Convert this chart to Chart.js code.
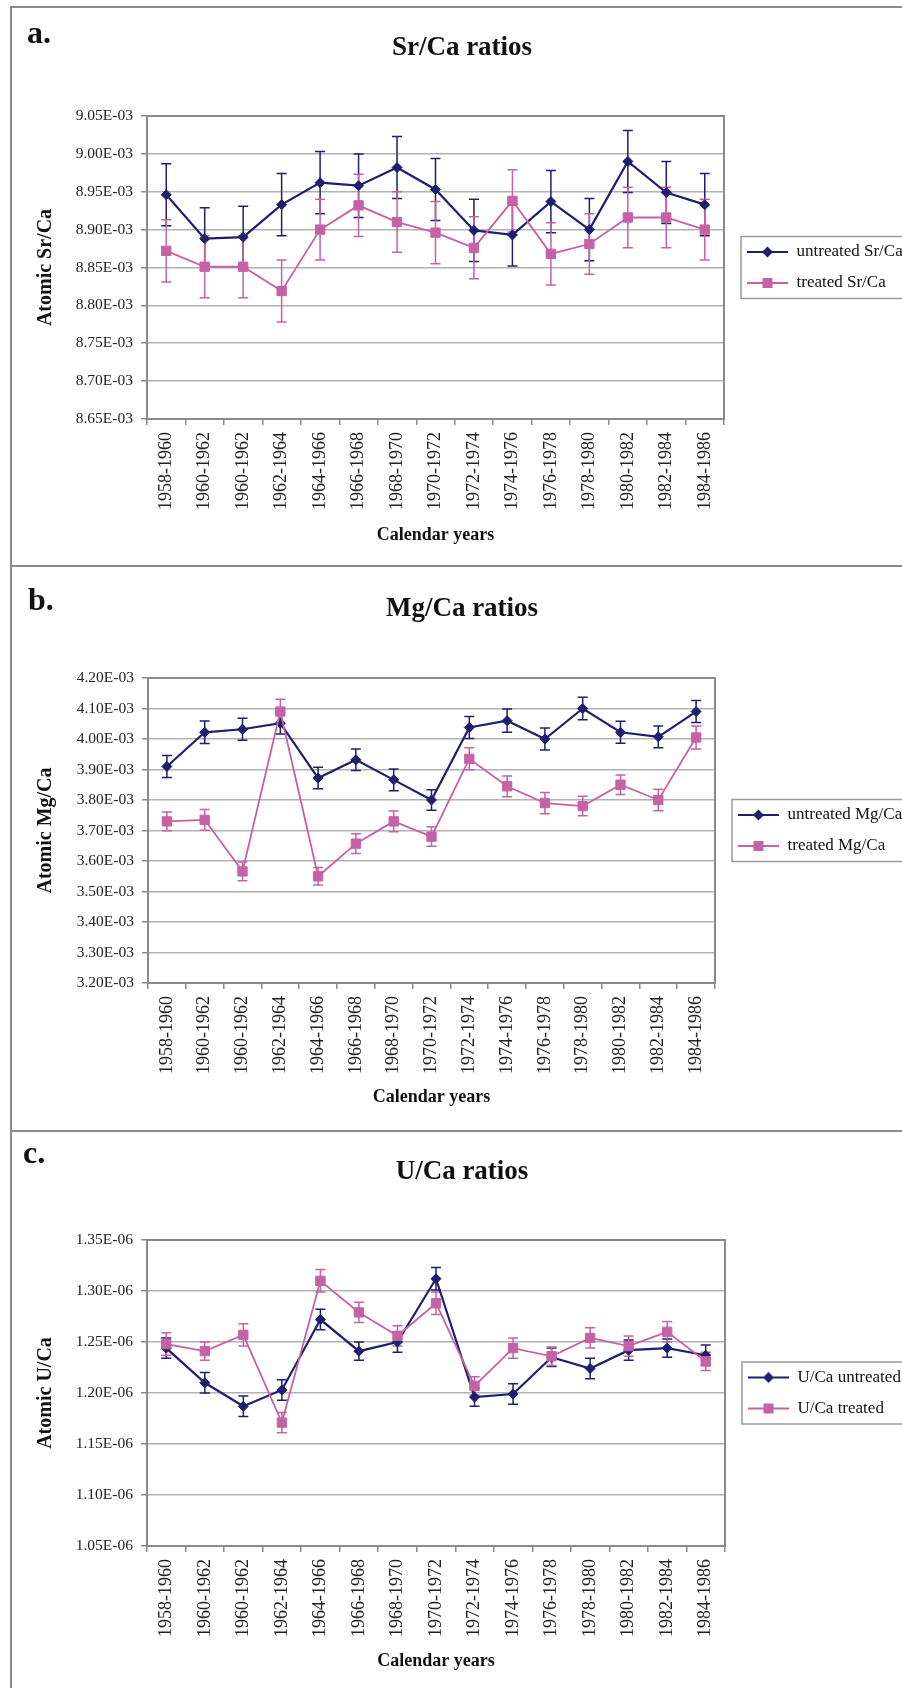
<!DOCTYPE html>
<html>
<head>
<meta charset="utf-8">
<title>Sr/Ca, Mg/Ca and U/Ca ratios</title>
<script src="https://cdn.jsdelivr.net/npm/chart.js@4.4.1/dist/chart.umd.min.js"></script>
<style>
  html, body { margin: 0; padding: 0; background: #fff; overflow: hidden; }
  #fig { position: relative; width: 902px; height: 1688px; overflow: hidden; background: #fff; }
  #fig canvas { position: absolute; left: 0; }
  .rule { position: absolute; background: #8c8c8c; }
</style>
</head>
<body>
<div id="fig">
  <canvas id="srCa" width="924" height="566" style="top:0px"></canvas>
  <canvas id="mgCa" width="924" height="565" style="top:566px"></canvas>
  <canvas id="uCa" width="924" height="557" style="top:1131px"></canvas>
  <div class="rule" style="left:10px;top:6px;width:2px;height:1700px"></div>
  <div class="rule" style="left:10px;top:6px;width:900px;height:2px"></div>
  <div class="rule" style="left:10px;top:565px;width:900px;height:2px"></div>
  <div class="rule" style="left:10px;top:1130px;width:900px;height:2px"></div>
</div>
<script>
// ---- categories ----
const yearLabels = ['1958-1960', '1960-1962', '1960-1962', '1962-1964', '1964-1966', '1966-1968',
  '1968-1970', '1970-1972', '1972-1974', '1974-1976', '1976-1978', '1978-1980',
  '1980-1982', '1982-1984', '1984-1986'];

// ---- Sr/Ca (atomic ratio) ----
const srUntreated = [8.946e-3, 8.888e-3, 8.890e-3, 8.933e-3, 8.962e-3, 8.958e-3, 8.982e-3, 8.953e-3,
  8.899e-3, 8.893e-3, 8.937e-3, 8.900e-3, 8.990e-3, 8.949e-3, 8.933e-3];
const srUntreatedErr = [0.041e-3, 0.041e-3, 0.041e-3, 0.041e-3, 0.041e-3, 0.042e-3, 0.041e-3, 0.041e-3,
  0.041e-3, 0.041e-3, 0.041e-3, 0.041e-3, 0.041e-3, 0.041e-3, 0.041e-3];
const srTreated = [8.872e-3, 8.851e-3, 8.851e-3, 8.819e-3, 8.900e-3, 8.932e-3, 8.910e-3, 8.896e-3,
  8.876e-3, 8.938e-3, 8.868e-3, 8.881e-3, 8.916e-3, 8.916e-3, 8.900e-3];
const srTreatedErr = [0.041e-3, 0.041e-3, 0.041e-3, 0.041e-3, 0.040e-3, 0.041e-3, 0.040e-3, 0.041e-3,
  0.041e-3, 0.041e-3, 0.041e-3, 0.040e-3, 0.040e-3, 0.040e-3, 0.040e-3];
const srTickValues = [8.65e-3, 8.70e-3, 8.75e-3, 8.80e-3, 8.85e-3, 8.90e-3, 8.95e-3, 9.00e-3, 9.05e-3];

// ---- Mg/Ca (atomic ratio) ----
const mgUntreated = [3.910e-3, 4.022e-3, 4.032e-3, 4.052e-3, 3.872e-3, 3.932e-3, 3.866e-3, 3.800e-3,
  4.038e-3, 4.060e-3, 4.000e-3, 4.100e-3, 4.022e-3, 4.007e-3, 4.090e-3];
const mgUntreatedErr = [0.036e-3, 0.037e-3, 0.036e-3, 0.036e-3, 0.035e-3, 0.035e-3, 0.036e-3, 0.034e-3,
  0.036e-3, 0.038e-3, 0.036e-3, 0.037e-3, 0.036e-3, 0.036e-3, 0.036e-3];
const mgTreated = [3.730e-3, 3.735e-3, 3.566e-3, 4.090e-3, 3.550e-3, 3.657e-3, 3.730e-3, 3.680e-3,
  3.935e-3, 3.845e-3, 3.790e-3, 3.780e-3, 3.850e-3, 3.800e-3, 4.005e-3];
const mgTreatedErr = [0.031e-3, 0.034e-3, 0.031e-3, 0.040e-3, 0.029e-3, 0.032e-3, 0.034e-3, 0.032e-3,
  0.036e-3, 0.034e-3, 0.035e-3, 0.032e-3, 0.032e-3, 0.035e-3, 0.038e-3];
const mgTickValues = [3.20e-3, 3.30e-3, 3.40e-3, 3.50e-3, 3.60e-3, 3.70e-3, 3.80e-3, 3.90e-3, 4.00e-3, 4.10e-3, 4.20e-3];

// ---- U/Ca (atomic ratio) ----
const uUntreated = [1.244e-6, 1.210e-6, 1.187e-6, 1.203e-6, 1.272e-6, 1.241e-6, 1.250e-6, 1.312e-6,
  1.196e-6, 1.199e-6, 1.235e-6, 1.224e-6, 1.242e-6, 1.244e-6, 1.237e-6];
const uUntreatedErr = [0.010e-6, 0.010e-6, 0.010e-6, 0.010e-6, 0.010e-6, 0.009e-6, 0.010e-6, 0.011e-6,
  0.009e-6, 0.010e-6, 0.009e-6, 0.010e-6, 0.010e-6, 0.009e-6, 0.010e-6];
const uTreated = [1.248e-6, 1.241e-6, 1.257e-6, 1.171e-6, 1.310e-6, 1.279e-6, 1.256e-6, 1.288e-6,
  1.207e-6, 1.244e-6, 1.236e-6, 1.254e-6, 1.246e-6, 1.260e-6, 1.231e-6];
const uTreatedErr = [0.011e-6, 0.009e-6, 0.011e-6, 0.010e-6, 0.011e-6, 0.010e-6, 0.010e-6, 0.011e-6,
  0.009e-6, 0.010e-6, 0.009e-6, 0.010e-6, 0.010e-6, 0.010e-6, 0.009e-6];
const uTickValues = [1.05e-6, 1.10e-6, 1.15e-6, 1.20e-6, 1.25e-6, 1.30e-6, 1.35e-6];

// ---- shared styling ----
const SERIF = "'Liberation Serif', 'Times New Roman', 'DejaVu Serif', serif";
const NAVY = '#1f1f6e';
const PINK = '#c562a5';
Chart.defaults.font.family = SERIF;
Chart.defaults.color = '#1a1a1a';

// Excel-style "E-03" notation for axis ticks
function sci(v) {
  const [m, e] = Number(v).toExponential(2).split('e');
  const n = parseInt(e, 10);
  return m + 'E' + (n < 0 ? '-' : '+') + String(Math.abs(n)).padStart(2, '0');
}

// legend sample: a short line with the series marker on it
function legendIcon(color, shape) {
  const c = document.createElement('canvas');
  c.width = 50; c.height = 14;
  const g = c.getContext('2d');
  g.strokeStyle = color; g.lineWidth = 2.2;
  g.beginPath(); g.moveTo(9, 7); g.lineTo(50, 7); g.stroke();
  g.fillStyle = color;
  const cx = 29.5, cy = 7;
  g.beginPath();
  if (shape === 'rectRot') {
    g.moveTo(cx - 5.5, cy); g.lineTo(cx, cy - 5.5); g.lineTo(cx + 5.5, cy); g.lineTo(cx, cy + 5.5);
    g.closePath();
  } else {
    g.rect(cx - 5, cy - 5, 10, 10);
  }
  g.fill();
  return c;
}
const icons = { untreated: legendIcon(NAVY, 'rectRot'), treated: legendIcon(PINK, 'rect') };

// vertical error bars with caps, read from each dataset's "errors" array
const errorBars = {
  id: 'errorBars',
  beforeDatasetsDraw(chart) {
    const { ctx } = chart;
    const y = chart.scales.y;
    chart.data.datasets.forEach((ds, i) => {
      const meta = chart.getDatasetMeta(i);
      ctx.save();
      ctx.strokeStyle = ds.borderColor;
      ctx.lineWidth = 1.5;
      meta.data.forEach((pt, j) => {
        const v = ds.data[j], e = ds.errors[j];
        const yt = y.getPixelForValue(v + e), yb = y.getPixelForValue(v - e);
        const x = pt.x;
        ctx.beginPath();
        ctx.moveTo(x, yt); ctx.lineTo(x, yb);
        ctx.moveTo(x - 5, yt); ctx.lineTo(x + 5, yt);
        ctx.moveTo(x - 5, yb); ctx.lineTo(x + 5, yb);
        ctx.stroke();
      });
      ctx.restore();
    });
  }
};

// grey border round the plot area
const plotFrame = {
  id: 'plotFrame',
  beforeDatasetsDraw(chart) {
    const { ctx, chartArea: a } = chart;
    ctx.save();
    ctx.strokeStyle = '#8a8a8a';
    ctx.lineWidth = 2;
    ctx.strokeRect(a.left, a.top, a.right - a.left, a.bottom - a.top);
    ctx.restore();
  }
};

// fixed legend column width so the plot area ends where wanted
const legendWidth = {
  id: 'legendWidth',
  beforeLayout(chart, args, opts) {
    const lg = chart.legend;
    if (lg && !lg.__fixedWidth) {
      const fit = lg.fit;
      lg.fit = function () { fit.call(this); if (this.options.display) this.width = opts.width; };
      lg.__fixedWidth = true;
    }
  }
};

// box drawn round the legend entries
const legendFrame = {
  id: 'legendFrame',
  afterDraw(chart) {
    const lg = chart.legend;
    if (!lg || !lg.legendHitBoxes || !lg.legendHitBoxes.length) return;
    const hb = lg.legendHitBoxes;
    const last = hb[hb.length - 1];
    const top = hb[0].top - 7;
    const bottom = last.top + last.height + 7;
    const left = lg.left + 17;
    const { ctx } = chart;
    ctx.save();
    ctx.strokeStyle = '#9a9a9a';
    ctx.lineWidth = 1.5;
    ctx.strokeRect(left, top, chart.width + 10 - left, bottom - top);
    ctx.restore();
  }
};

// panel letter in the top-left corner
const panelTag = {
  id: 'panelTag',
  afterDraw(chart, args, o) {
    const { ctx } = chart;
    ctx.save();
    ctx.font = 'bold 32px ' + SERIF;
    ctx.fillStyle = '#111';
    ctx.textBaseline = 'alphabetic';
    ctx.fillText(o.text, o.x, o.y);
    ctx.restore();
  }
};

function makePanel(id, p) {
  return new Chart(document.getElementById(id), {
    type: 'line',
    data: {
      labels: yearLabels,
      datasets: [
        {
          label: p.names[0], data: p.untreated, errors: p.untreatedErr, icon: 'untreated',
          borderColor: NAVY, backgroundColor: NAVY, borderWidth: 2.2, tension: 0,
          pointStyle: 'rectRot', pointRadius: 5, pointBorderWidth: 1,
          pointBorderColor: NAVY, pointBackgroundColor: NAVY, order: 1
        },
        {
          label: p.names[1], data: p.treated, errors: p.treatedErr, icon: 'treated',
          borderColor: PINK, backgroundColor: PINK, borderWidth: 1.8, tension: 0,
          pointStyle: 'rect', pointRadius: 6.6, pointBorderWidth: 1,
          pointBorderColor: PINK, pointBackgroundColor: PINK, order: 0
        }
      ]
    },
    options: {
      responsive: false,
      animation: false,
      devicePixelRatio: 1,
      layout: { padding: 0 },
      events: [],
      plugins: {
        title: {
          display: true, text: p.title, color: '#111',
          font: { family: SERIF, size: 27, weight: 'bold' },
          padding: { top: p.titleTop, bottom: p.titleBottom }
        },
        legend: {
          position: 'right', align: 'center', fullSize: false,
          labels: {
            usePointStyle: true, pointStyleWidth: 50, boxHeight: 14, padding: 14,
            color: '#111', font: { family: SERIF, size: 17 },
            sort: (a, b) => a.datasetIndex - b.datasetIndex,
            generateLabels(chart) {
              const items = Chart.defaults.plugins.legend.labels.generateLabels(chart);
              items.forEach(it => { it.pointStyle = icons[chart.data.datasets[it.datasetIndex].icon]; });
              return items;
            }
          }
        },
        tooltip: { enabled: false },
        legendWidth: { width: p.legendW },
        panelTag: { text: p.tag, x: p.tagX, y: p.tagY }
      },
      scales: {
        x: {
          type: 'category', offset: true,
          border: { display: false },
          grid: { display: true, offset: true, drawOnChartArea: false, drawTicks: true, tickLength: 6, tickColor: '#8a8a8a', lineWidth: 1.5 },
          ticks: { autoSkip: false, minRotation: 90, maxRotation: 90, padding: 7, color: '#222', font: { family: SERIF, size: 18 } },
          title: {
            display: true, text: 'Calendar years', color: '#111',
            font: { family: SERIF, size: 18, weight: 'bold' },
            padding: { top: 0, bottom: p.xTitleBottom }
          },
          afterFit(s) { s.height = p.xAxisH; }
        },
        y: {
          min: p.ticks[0], max: p.ticks[p.ticks.length - 1],
          afterBuildTicks(s) { s.ticks = p.ticks.map(v => ({ value: v })); },
          border: { display: false },
          grid: { color: '#b2b2b2', lineWidth: 1.5, drawTicks: true, tickLength: 6, tickColor: '#8a8a8a' },
          ticks: { callback: v => sci(v), padding: 8, color: '#222', font: { family: SERIF, size: 15.5 } },
          title: {
            display: true, text: p.yTitle, color: '#111',
            font: { family: SERIF, size: 20, weight: 'bold' },
            padding: { top: 34, bottom: 0 }
          },
          afterFit(s) { s.width = p.yAxisW; }
        }
      }
    },
    plugins: [legendWidth, plotFrame, errorBars, legendFrame, panelTag]
  });
}

makePanel('srCa', {
  title: 'Sr/Ca ratios', yTitle: 'Atomic Sr/Ca', tag: 'a.', tagX: 27, tagY: 43,
  names: ['untreated Sr/Ca', 'treated Sr/Ca'],
  untreated: srUntreated, untreatedErr: srUntreatedErr, treated: srTreated, treatedErr: srTreatedErr,
  ticks: srTickValues,
  titleTop: 31.8, titleBottom: 51.8, xAxisH: 147, xTitleBottom: 20.2, yAxisW: 147, legendW: 200
});

makePanel('mgCa', {
  title: 'Mg/Ca ratios', yTitle: 'Atomic Mg/Ca', tag: 'b.', tagX: 28, tagY: 44,
  names: ['untreated Mg/Ca', 'treated Mg/Ca'],
  untreated: mgUntreated, untreatedErr: mgUntreatedErr, treated: mgTreated, treatedErr: mgTreatedErr,
  ticks: mgTickValues,
  titleTop: 26.8, titleBottom: 52.8, xAxisH: 148, xTitleBottom: 23.2, yAxisW: 148, legendW: 209
});

makePanel('uCa', {
  title: 'U/Ca ratios', yTitle: 'Atomic U/Ca', tag: 'c.', tagX: 23, tagY: 32,
  names: ['U/Ca untreated', 'U/Ca treated'],
  untreated: uUntreated, untreatedErr: uUntreatedErr, treated: uTreated, treatedErr: uTreatedErr,
  ticks: uTickValues,
  titleTop: 24.8, titleBottom: 51.8, xAxisH: 142, xTitleBottom: 16.2, yAxisW: 147, legendW: 199
});
</script>
</body>
</html>
